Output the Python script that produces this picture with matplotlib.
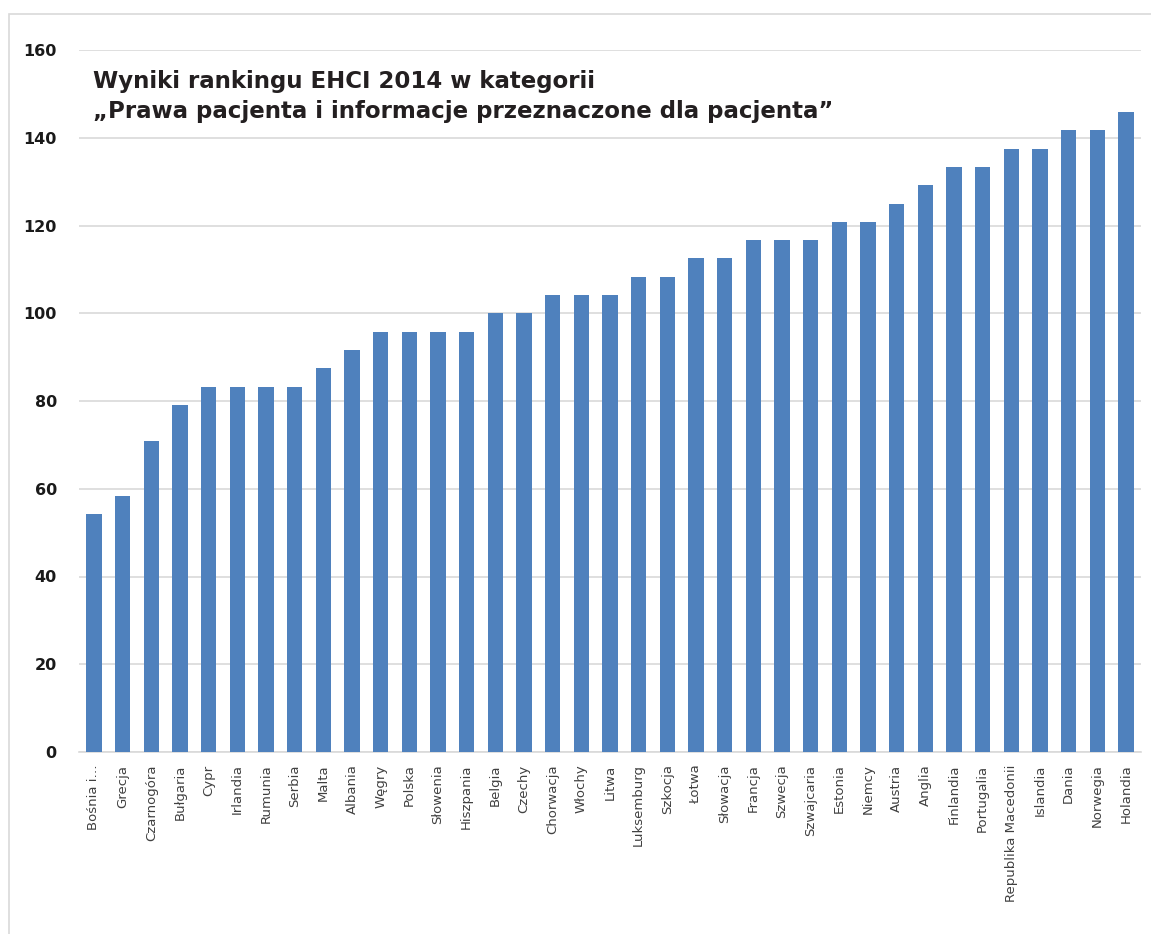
import matplotlib.pyplot as plt
from matplotlib.patches import Rectangle

countries = ['Bośnia i…', 'Grecja', 'Czarnogóra', 'Bułgaria', 'Cypr', 'Irlandia',
             'Rumunia', 'Serbia', 'Malta', 'Albania', 'Węgry', 'Polska', 'Słowenia',
             'Hiszpania', 'Belgia', 'Czechy', 'Chorwacja', 'Włochy', 'Litwa',
             'Luksemburg', 'Szkocja', 'Łotwa', 'Słowacja', 'Francja', 'Szwecja',
             'Szwajcaria', 'Estonia', 'Niemcy', 'Austria', 'Anglia', 'Finlandia',
             'Portugalia', 'Republika Macedonii', 'Islandia', 'Dania', 'Norwegia',
             'Holandia']
scores = [54.2, 58.3, 70.8, 79.2, 83.3, 83.3, 83.3, 83.3, 87.5, 91.7, 95.8, 95.8,
          95.8, 95.8, 100, 100, 104.2, 104.2, 104.2, 108.3, 108.3, 112.5, 112.5,
          116.7, 116.7, 116.7, 120.8, 120.8, 125, 129.2, 133.3, 133.3, 137.5,
          137.5, 141.7, 141.7, 145.8]
yticks = [0, 20, 40, 60, 80, 100, 120, 140, 160]
title = 'Wyniki rankingu EHCI 2014 w kategorii\n„Prawa pacjenta i informacje przeznaczone dla pacjenta”'

fig = plt.figure(figsize=(11.51, 9.34), dpi=100)
# light frame round the chart
fig.patches.append(Rectangle((9 / 1151, -0.01), 1.1, 1 - 14 / 934 + 0.01,
                             transform=fig.transFigure, fill=False,
                             edgecolor='#d9d9d9', linewidth=1.2))

ax = fig.add_axes([79 / 1151, 1 - 752 / 934, (1141 - 79) / 1151, (752 - 50) / 934])
x = range(len(countries))
ax.bar(x, scores, width=0.53, color='#4f81bd', zorder=3)

ax.set_ylim(0, 160)
ax.set_xlim(-0.52, len(countries) - 0.48)
ax.set_yticks(yticks)
ax.set_yticklabels([str(v) for v in yticks], fontsize=11.5, fontweight='bold', color='#1a1a1a')
ax.set_xticks(list(x))
ax.set_xticklabels(countries, rotation=90, fontsize=9.5, color='#404040', va='top')
ax.tick_params(axis='y', length=0, pad=16)
ax.tick_params(axis='x', length=0, pad=9)
ax.grid(axis='y', color='#d9d9d9', linewidth=1.2, zorder=0)
for s in ['top', 'right', 'left']:
    ax.spines[s].set_visible(False)
ax.spines['bottom'].set_color('#d9d9d9')
ax.spines['bottom'].set_linewidth(1.2)

ax.text(93 / 1151, 1 - 70 / 934, title, transform=fig.transFigure, fontsize=16.5,
        fontweight='bold', color='#231f20', va='top', ha='left', linespacing=1.4)

fig.savefig('out.png', dpi=100)
